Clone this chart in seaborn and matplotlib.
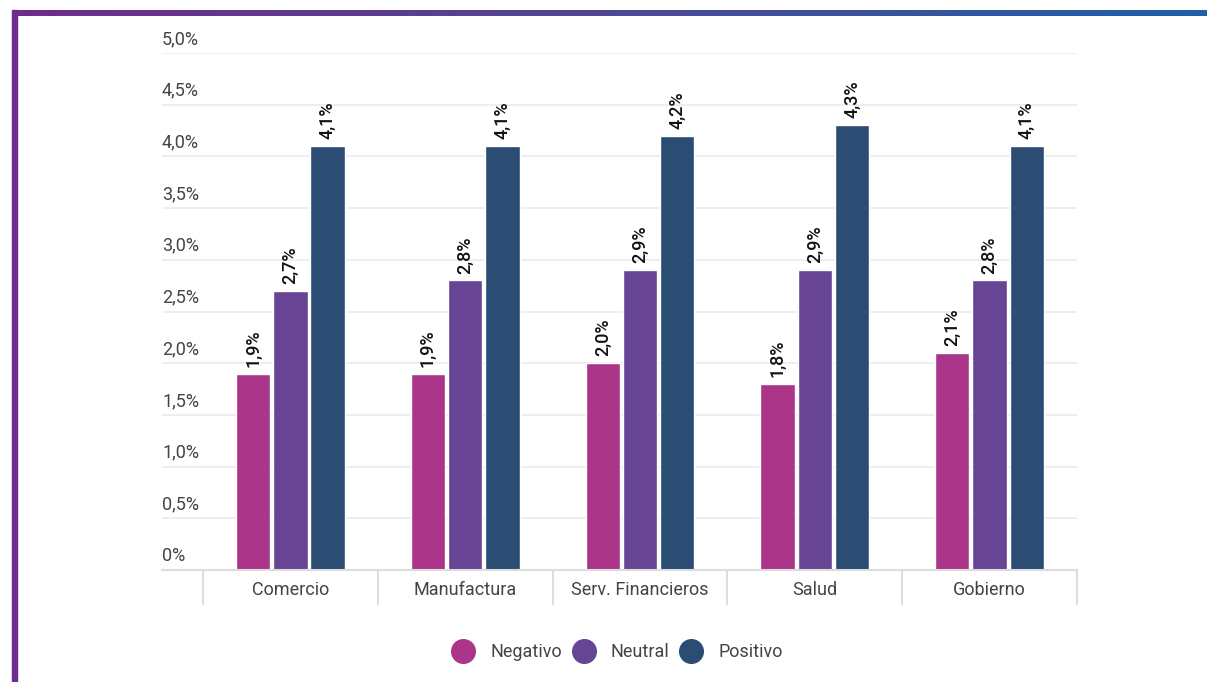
import matplotlib
matplotlib.use("Agg")
import matplotlib.pyplot as plt
import matplotlib.transforms as mtransforms
from matplotlib.lines import Line2D
from matplotlib.patches import Rectangle
import numpy as np
import pandas as pd
import seaborn as sns

categories = ["Comercio", "Manufactura", "Serv. Financieros", "Salud", "Gobierno"]
negativo = [1.9, 1.9, 2.0, 1.8, 2.1]
neutral = [2.7, 2.8, 2.9, 2.9, 2.8]
positivo = [4.1, 4.1, 4.2, 4.3, 4.1]
series_names = ["Negativo", "Neutral", "Positivo"]
y_ticks = [0, 0.5, 1.0, 1.5, 2.0, 2.5, 3.0, 3.5, 4.0, 4.5, 5.0]

colors = ["#AB3589", "#684494", "#2B4C73"]

df = pd.DataFrame({
    "categoria": categories * 3,
    "serie": [s for s in series_names for _ in categories],
    "valor": negativo + neutral + positivo,
})

sns.set_theme(style="white")
plt.rcParams["font.family"] = ["Roboto", "DejaVu Sans"]

W, H = 1207, 682
fig = plt.figure(figsize=(W / 100, H / 100), dpi=100)
ax = fig.add_axes([162 / W, (H - 570) / H, (1077 - 162) / W, (570 - 53) / H])

sns.barplot(data=df, x="categoria", y="valor", hue="serie", order=categories,
            hue_order=series_names, palette=colors, width=0.64, gap=0.08,
            saturation=1, ax=ax, legend=False)

left_extra = (203 - 162) / 175
ax.set_xlim(-0.5 - left_extra, 4.5)
ax.set_ylim(0, 5)
ax.set_xlabel("")
ax.set_ylabel("")
ax.set_yticks([])
for s in ["top", "right", "left"]:
    ax.spines[s].set_visible(False)
ax.spines["bottom"].set_color("#dddddd")
ax.spines["bottom"].set_linewidth(1.5)
ax.tick_params(axis="x", length=0, pad=8, labelsize=13, labelcolor="#444444")

for v in y_ticks[1:]:
    ax.axhline(v, color="#ebebeb", lw=1.2, zorder=0)

trans_lab = mtransforms.offset_copy(ax.get_yaxis_transform(), fig=fig, x=0, y=5, units="dots")
for v in y_ticks:
    lab = "0%" if v == 0 else f"{v:.1f}%".replace(".", ",")
    ax.text(0, v, lab, transform=trans_lab, ha="left", va="bottom",
            fontsize=13, color="#444444")

# separators under the axis
sep_trans = mtransforms.blended_transform_factory(ax.transData, ax.transAxes)
sep_len = 34 / (570 - 53)
for xb in np.arange(-0.5, 4.6, 1.0):
    ax.add_line(Line2D([xb, xb], [0, -sep_len], transform=sep_trans, color="#dddddd",
                       lw=1.5, clip_on=False))

for cont in ax.containers:
    labels = [f"{b.get_height():.1f}%".replace(".", ",") for b in cont]
    ax.bar_label(cont, labels=labels, rotation=90, padding=5, fontsize=13,
                 color="#111111", fontweight="medium")

handles = [Line2D([0], [0], marker="o", linestyle="", markersize=17,
                  markerfacecolor=c, markeredgecolor=c) for c in colors]
fig.legend(handles, series_names, loc="center", bbox_to_anchor=(614 / W, (H - 652) / H),
           ncol=3, frameon=False, fontsize=13, labelcolor="#444444",
           handletextpad=0.5, columnspacing=0.2)

# frame: left purple border and gradient top line
fig.patches.append(Rectangle((12 / W, 0), 5 / W, (H - 10) / H, transform=fig.transFigure,
                             color="#6F2C8A", zorder=5))
grad_ax = fig.add_axes([12 / W, (H - 16) / H, (W - 12) / W, 6 / H])
grad = np.linspace(0, 1, 256).reshape(1, -1)
cmap = matplotlib.colors.LinearSegmentedColormap.from_list("g", ["#6F2C8A", "#4E4796", "#1F5FA8"])
grad_ax.imshow(grad, aspect="auto", cmap=cmap, extent=[0, 1, 0, 1])
grad_ax.set_axis_off()

fig.savefig("out.png", dpi=100)
